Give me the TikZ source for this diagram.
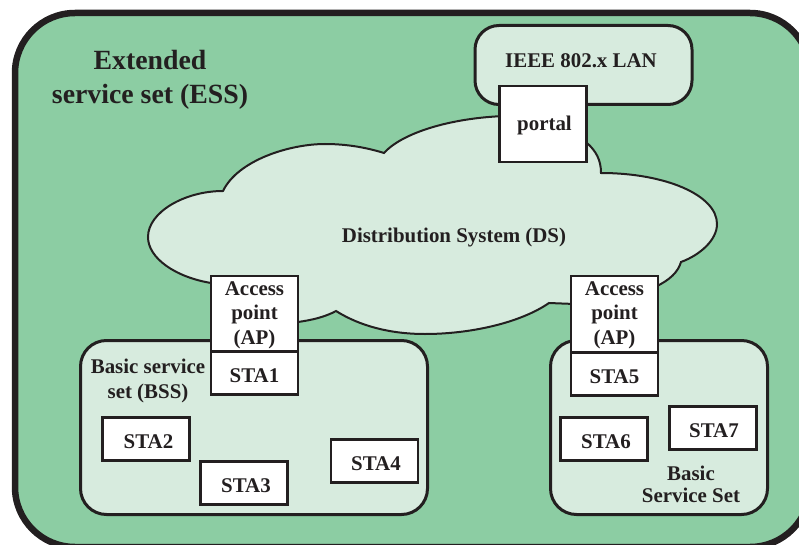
\documentclass[tikz,border=0pt]{standalone}
\usepackage{fontspec}
\setmainfont{Liberation Serif}
\definecolor{essgreen}{HTML}{8CCDA3}
\definecolor{lightgreen}{HTML}{D7EBDE}
\definecolor{inkc}{HTML}{231F20}
\newcommand{\nudge}[1]{\hspace*{#1pt}}
\tikzset{
  lbl/.style={font=\bfseries\fontsize{20.9}{25}\selectfont, text=inkc, inner sep=0pt, align=center},
  stabox/.style={draw=inkc, line width=2.2pt, fill=white, minimum width=87pt, minimum height=43pt, inner sep=0pt, font=\bfseries\fontsize{20.9}{25}\selectfont, text=inkc, text height=19pt, text depth=0pt},
  apbox/.style={draw=inkc, line width=2.2pt, fill=white, minimum width=87pt, minimum height=76pt, inner sep=0pt, align=center, font=\bfseries\fontsize{20.9}{24.5}\selectfont, text=inkc},
  bssbox/.style={draw=inkc, line width=3pt, fill=lightgreen, rounded corners=26pt, inner sep=0pt, anchor=north west}
}
\begin{document}
\begin{tikzpicture}[x=1pt,y=-1pt]
\useasboundingbox (0,0) rectangle (799,545);
\begin{scope}
\clip (0,0) rectangle (799,545);
\node[draw=inkc, line width=6.5pt, fill=essgreen, rounded corners=60pt, minimum width=795pt, minimum height=534pt, inner sep=0pt, anchor=north west] (ess) at (11.75,9.75) {};
\end{scope}
\node[bssbox, minimum width=217pt, minimum height=79pt, rounded corners=24pt] (lan) at (473.5,24) {};
\coordinate (c0) at (148,237);
\draw[draw=inkc, line width=2pt, fill=lightgreen]
  (c0) .. controls (148,212) and (185,191) .. (223,191)
  .. controls (238,160) and (290,144) .. (325,144)
  .. controls (348,144) and (368,148) .. (384,153)
  .. controls (402,133) and (450,118) .. (505,116)
  -- (587,143)
  .. controls (596,151) and (601,160) .. (601,173)
  .. controls (665,173) and (717,195) .. (717,224)
  .. controls (717,240) and (700,255) .. (681,262)
  .. controls (678,272) and (670,280) .. (655,287)
  -- (600,305) -- (549,303)
  .. controls (520,323) and (470,334) .. (425,334)
  .. controls (390,334) and (360,326) .. (336,311)
  .. controls (325,317) and (312,320) .. (298,322)
  -- (230,285) -- (211,283)
  .. controls (175,277) and (148,258) .. (c0) -- cycle;
\node[lbl] (ds) at (454,238) {Distribution System (DS)};
\node[lbl, font=\bfseries\fontsize{27.8}{34}\selectfont] (title) at (150,80) {Extended\\service set (ESS)};
\node[lbl] (lanl) at (581,61) {IEEE 802.x LAN};
\node[stabox, minimum height=76pt, text height=14pt] (portal) at (543,124) {\nudge{3}portal};
\node[bssbox, minimum width=347pt, minimum height=174pt] (bss1) at (79,339) {};
\node[bssbox, minimum width=217pt, minimum height=174pt] (bss2) at (549,339) {};
\node[apbox] (ap1) at (254.5,314) {\rule{0pt}{16pt}Access\\point\\(AP)};
\node[stabox] (sta1) at (254.5,373) {STA1};
\node[apbox] (ap2) at (614.5,314) {\rule{0pt}{16pt}Access\\point\\(AP)};
\node[stabox] (sta5) at (614.5,374) {STA5};
\node[stabox] (sta2) at (146,439) {\nudge{5}STA2};
\node[stabox] (sta3) at (244,483) {\nudge{4}STA3};
\node[stabox] (sta4) at (374.5,461) {\nudge{3}STA4};
\node[stabox] (sta6) at (604,439) {\nudge{4}STA6};
\node[stabox] (sta7) at (713,428) {\nudge{2}STA7};
\node[lbl] (bsl1) at (148,381) {Basic service\\set (BSS)};
\node[lbl, font=\bfseries\fontsize{20.9}{22}\selectfont] (bsl2) at (691,484) {Basic\\Service Set};
\end{tikzpicture}
\end{document}
